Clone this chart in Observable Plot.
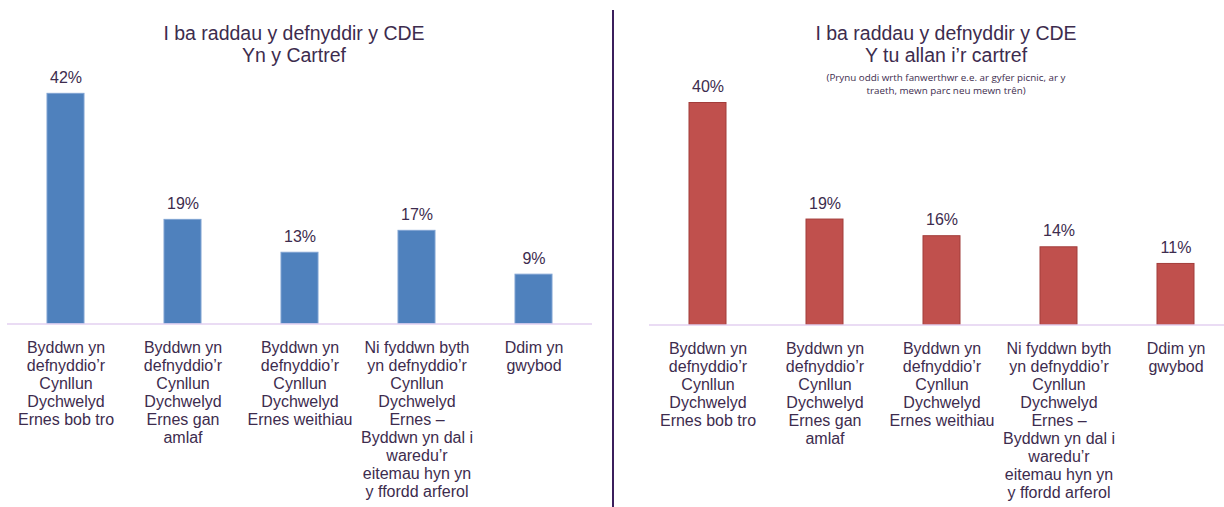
<!DOCTYPE html>
<html>
<head>
<meta charset="utf-8">
<script src="https://cdn.jsdelivr.net/npm/d3@7"></script>
<script src="https://cdn.jsdelivr.net/npm/@observablehq/plot@0.6"></script>
<style>
  html, body { margin: 0; padding: 0; background: #fff; }
  #wrap { position: relative; width: 1224px; height: 507px; overflow: hidden; font-family: "Liberation Sans", Arial, sans-serif; }
  .panel { position: absolute; top: 0; height: 507px; }
  .panel svg { max-width: none !important; display: block; }
  .title { position: absolute; text-align: center; color: #3d2c4e; font-size: 19.5px; line-height: 22px; }
  .sub { position: absolute; text-align: center; color: #3d2c4e; font-family: "Open Sans", sans-serif; font-size: 9.8px; line-height: 13px; }
  #divider { position: absolute; left: 612px; top: 10px; width: 1.5px; height: 497px; background: #3b1f5c; }
</style>
</head>
<body>
<div id="wrap">
  <div id="left" class="panel" style="left:0; width:612px"></div>
  <div id="right" class="panel" style="left:612px; width:622px"></div>
  <div id="divider"></div>
  <div class="title" id="t1" style="left:94px; top:22px; width:400px"></div>
  <div class="title" id="t2" style="left:746px; top:22px; width:400px"></div>
  <div class="sub" id="s2" style="left:786px; top:71px; width:320px"></div>
</div>
<script>
// Categories (line breaks as in the reference)
const categories = [
  "Byddwn yn\ndefnyddio’r\nCynllun\nDychwelyd\nErnes bob tro",
  "Byddwn yn\ndefnyddio’r\nCynllun\nDychwelyd\nErnes gan\namlaf",
  "Byddwn yn\ndefnyddio’r\nCynllun\nDychwelyd\nErnes weithiau",
  "Ni fyddwn byth\nyn defnyddio’r\nCynllun\nDychwelyd\nErnes –\nByddwn yn dal i\nwaredu’r\neitemau hyn yn\ny ffordd arferol",
  "Ddim yn\ngwybod"
];
const homeValues = [42, 19, 13, 17, 9];
const awayValues = [40, 19, 16, 14, 11];

const titleLeft = ["I ba raddau y defnyddir y CDE", "Yn y Cartref"];
const titleRight = ["I ba raddau y defnyddir y CDE", "Y tu allan i’r cartref"];
const subtitleRight = ["(Prynu oddi wrth fanwerthwr e.e. ar gyfer picnic, ar y", "traeth, mewn parc neu mewn trên)"];

document.getElementById("t1").innerHTML = titleLeft.join("<br>");
document.getElementById("t2").innerHTML = titleRight.join("<br>");
document.getElementById("s2").innerHTML = subtitleRight.join("<br>");

const textColor = "#3d2c4e";

function panel(values, opts) {
  const data = categories.map((c, i) => ({cat: c, v: values[i]}));
  return Plot.plot({
    width: opts.width,
    height: 507,
    marginLeft: opts.marginLeft,
    marginRight: opts.marginRight,
    marginTop: opts.marginTop,
    marginBottom: opts.marginBottom,
    style: {fontFamily: "Liberation Sans, Arial, sans-serif", background: "transparent", maxWidth: "none"},
    x: {domain: categories, padding: 0},
    y: {domain: [0, 50], axis: null},
    marks: [
      Plot.barY(data, {x: "cat", y: "v", fill: opts.fill, stroke: opts.stroke, strokeWidth: 1, insetLeft: 40, insetRight: 40}),
      Plot.text(data, {x: "cat", y: "v", text: d => d.v + "%", dy: -16, fontSize: 16, fill: textColor}),
      Plot.ruleY([0], {stroke: "#e3d0f0", strokeWidth: 1.5}),
      Plot.axisX({tickSize: 0, tickPadding: 16, fontSize: 16, lineHeight: 1.125, fill: textColor, label: null})
    ]
  });
}

document.getElementById("left").append(panel(homeValues, {
  width: 612, marginLeft: 7, marginRight: 20, marginTop: 49.5, marginBottom: 183.5,
  fill: "#4f81bd", stroke: "#7ea2d2"
}));
document.getElementById("right").append(panel(awayValues, {
  width: 622, marginLeft: 37, marginRight: 0, marginTop: 47, marginBottom: 182.5,
  fill: "#c0504d", stroke: "#a23c3a"
}));
</script>
</body>
</html>
